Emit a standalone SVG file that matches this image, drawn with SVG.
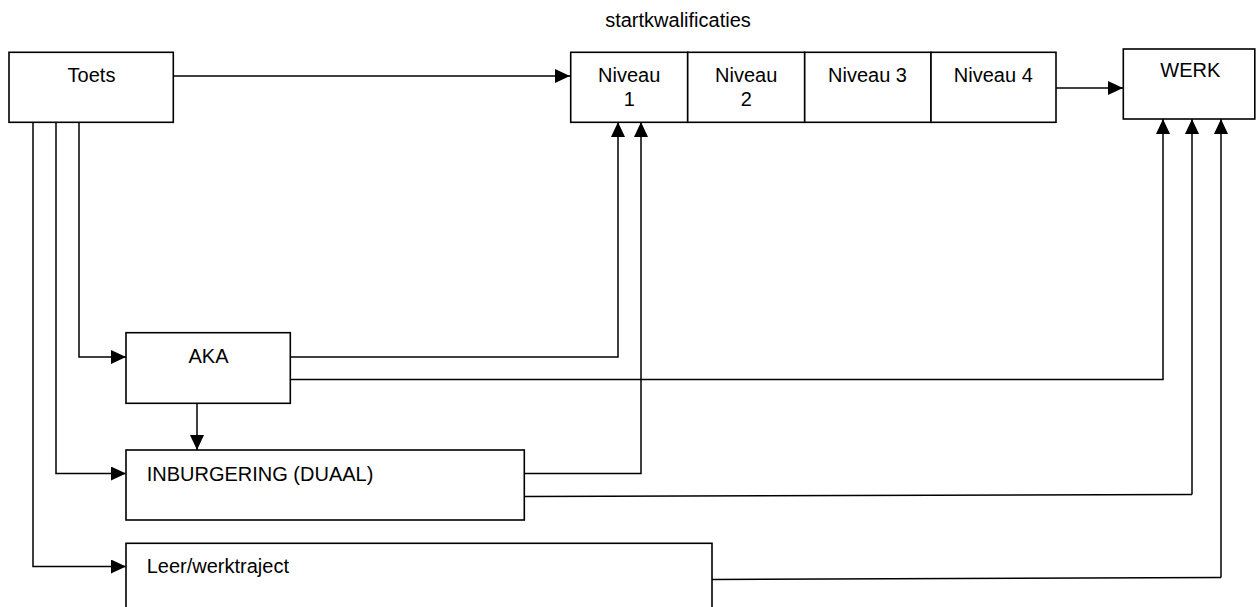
<svg xmlns="http://www.w3.org/2000/svg" width="1256" height="607" viewBox="0 0 1256 607">
<style>
.box{fill:#fff;stroke:#000;stroke-width:1.6}
.t{font-family:"Liberation Sans",Arial,sans-serif;font-size:20px;fill:#000}
.c{text-anchor:middle}
.ln{fill:none;stroke:#000;stroke-width:1.5}
.ar{marker-end:url(#ah)}
</style>
<defs>
<marker id="ah" viewBox="0 0 15 14" refX="15" refY="7" markerWidth="15" markerHeight="14" markerUnits="userSpaceOnUse" orient="auto">
<path d="M0,0 L15,7 L0,14 Z" fill="#000"/>
</marker>
</defs>
<rect width="1256" height="607" fill="#fff"/>
<text class="t c" x="678" y="27">startkwalificaties</text>
<g id="connectors">
<path class="ln ar" d="M173,76 H570"/>
<path class="ln ar" d="M1056,88 H1123"/>
<path class="ln ar" d="M79,122 V357 H126"/>
<path class="ln ar" d="M56,122 V473.5 H126"/>
<path class="ln ar" d="M33,122 V566.5 H126"/>
<path class="ln ar" d="M197,403 V450"/>
<path class="ln ar" d="M290,357 H618 V122"/>
<path class="ln ar" d="M290,379.5 H1163 V119"/>
<path class="ln ar" d="M524,473.5 H641 V122"/>
<path class="ln" d="M524,496.5 L1192,494.5"/>
<path class="ln ar" d="M1192,494.5 V119"/>
<path class="ln" d="M712,579.5 L1221,577.5"/>
<path class="ln ar" d="M1221,577.5 V119"/>
</g>
<g id="toets">
<rect class="box" x="9" y="52.3" width="164.3" height="70"/>
<text class="t c" x="91.5" y="82.3">Toets</text>
</g>
<g id="niveau1">
<rect class="box" x="570.7" y="52.3" width="117" height="70"/>
<text class="t c" x="629.2" y="82.3">Niveau</text>
<text class="t c" x="629.2" y="105.5">1</text>
</g>
<g id="niveau2">
<rect class="box" x="687.7" y="52.3" width="117" height="70"/>
<text class="t c" x="746.2" y="82.3">Niveau</text>
<text class="t c" x="746.2" y="105.5">2</text>
</g>
<g id="niveau3">
<rect class="box" x="804.7" y="52.3" width="126.3" height="70"/>
<text class="t c" x="867.5" y="82.3">Niveau 3</text>
</g>
<g id="niveau4">
<rect class="box" x="931" y="52.3" width="125" height="70"/>
<text class="t c" x="993.3" y="82.3">Niveau 4</text>
</g>
<g id="werk">
<rect class="box" x="1123.3" y="49" width="131.5" height="70"/>
<text class="t c" x="1190.3" y="77.3">WERK</text>
</g>
<g id="aka">
<rect class="box" x="126" y="332.7" width="164.3" height="70.6"/>
<text class="t c" x="208.5" y="363.3">AKA</text>
</g>
<g id="inburgering">
<rect class="box" x="126" y="450" width="398.3" height="70"/>
<text class="t" x="146.7" y="480.7">INBURGERING (DUAAL)</text>
</g>
<g id="leerwerktraject">
<rect class="box" x="126" y="543.3" width="586" height="90"/>
<text class="t" x="146.7" y="573.3">Leer/werktraject</text>
</g>
</svg>
